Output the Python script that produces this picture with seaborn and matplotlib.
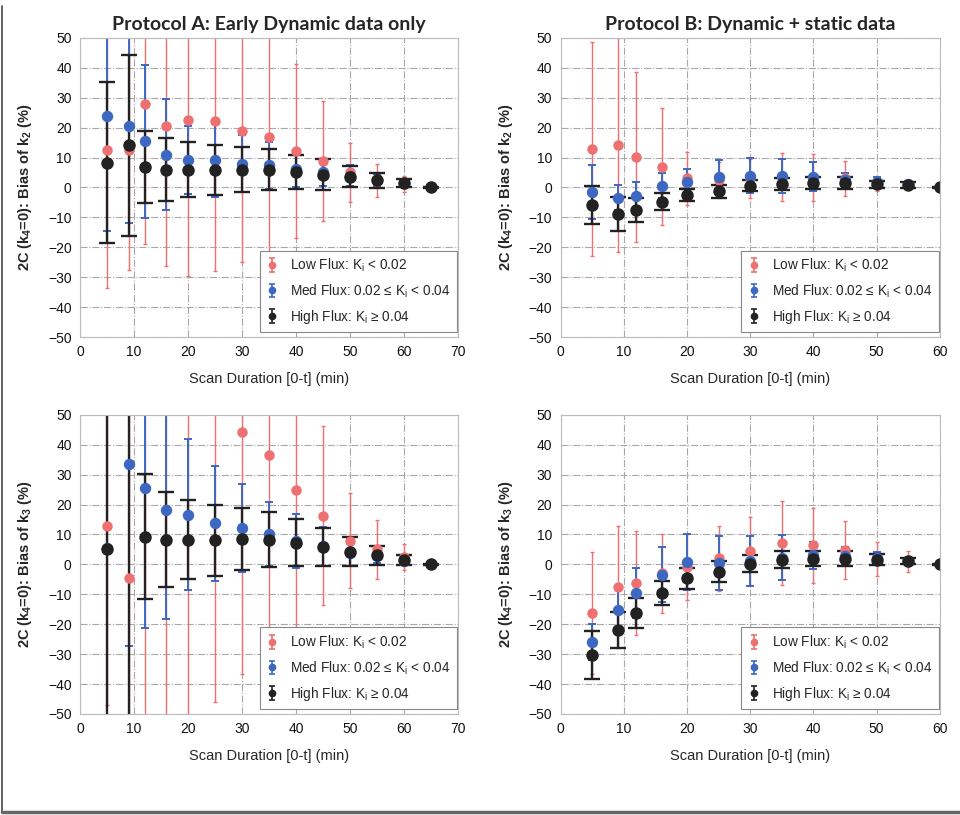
# 2C model (k4=0) bias of k2 / k3 vs scan duration
# Protocol A (early dynamic only) vs Protocol B (dynamic + static)

import matplotlib
matplotlib.use("Agg")
import matplotlib.pyplot as plt
import seaborn as sns

# Scan durations (min)
time_a = [5, 9, 12, 16, 20, 25, 30, 35, 40, 45, 50, 55, 60, 65]
time_b = [5, 9, 12, 16, 20, 25, 30, 35, 40, 45, 50, 55, 60]

# Protocol A - bias of k2 (%), mean and error
a_k2_low = [12.4, 12.4, 28.0, 20.7, 22.4, 22.2, 19.0, 16.7, 12.2, 8.9, 5.0, 2.2, 1.1, 0.0]
a_k2_low_err = [46, 40, 47, 47, 52, 50, 44, 39, 29, 20, 9.8, 5.5, 2.6, 0.3]
a_k2_med = [23.9, 20.6, 15.4, 11.0, 9.1, 9.1, 8.0, 7.4, 6.3, 5.0, 3.9, 2.4, 1.4, 0.0]
a_k2_med_err = [38.3, 32.5, 25.7, 18.5, 11.3, 12.2, 9.5, 7.8, 6.0, 4.4, 3.5, 2.0, 1.2, 0.2]
a_k2_high = [8.3, 14.1, 6.9, 6.0, 6.0, 5.8, 6.0, 6.0, 5.2, 4.3, 3.6, 2.4, 1.4, 0.0]
a_k2_high_err = [26.8, 30.2, 12.1, 10.5, 9.1, 8.3, 7.5, 6.8, 5.6, 5.1, 3.6, 2.5, 1.3, 0.1]

# Protocol B - bias of k2 (%)
b_k2_low = [12.9, 14.2, 10.1, 6.9, 3.0, 2.5, 3.0, 3.5, 3.3, 3.0, 1.3, 0.8, 0.0]
b_k2_low_err = [35.8, 35.8, 28.4, 19.5, 8.8, 6.0, 6.5, 8.0, 7.8, 6.0, 2.6, 1.2, 0.1]
b_k2_med = [-1.5, -3.4, -2.8, 0.6, 1.7, 3.4, 3.9, 3.9, 3.6, 2.6, 1.9, 1.1, 0.0]
b_k2_med_err = [9.0, 4.3, 4.5, 4.2, 4.5, 5.9, 5.8, 5.7, 4.8, 2.1, 1.6, 1.0, 0.1]
b_k2_high = [-5.8, -8.9, -7.6, -4.7, -2.5, -1.3, 0.6, 1.1, 1.5, 1.5, 1.1, 0.8, 0.0]
b_k2_high_err = [6.3, 5.6, 4.1, 2.7, 2.1, 2.1, 1.9, 2.1, 1.9, 1.9, 1.2, 0.9, 0.1]

# Protocol A - bias of k3 (%)
a_k3_low = [13.0, -4.4, 60, 58, 55, 52, 44.3, 36.6, 24.8, 16.3, 7.9, 5.0, 2.4, 0.0]
a_k3_low_err = [60, 60, 120, 115, 110, 98, 81, 70, 46.6, 30, 15.8, 10, 4.3, 0.2]
a_k3_med = [5.5, 33.6, 25.6, 18.3, 16.6, 13.7, 12.2, 10.2, 7.8, 6.1, 3.9, 2.8, 1.1, 0.0]
a_k3_med_err = [70, 60.8, 47, 36.4, 25.2, 19.3, 14.8, 10.6, 9.0, 6.5, 4.5, 2.5, 1.2, 0.2]
a_k3_high = [5.2, -60, 9.3, 8.3, 8.3, 8.0, 8.6, 8.3, 7.2, 5.8, 4.3, 3.0, 1.4, 0.0]
a_k3_high_err = [80, 120, 20.8, 16.0, 13.3, 11.8, 10.4, 9.2, 7.9, 6.4, 4.8, 3.2, 1.6, 0.1]

# Protocol B - bias of k3 (%)
b_k3_low = [-16.4, -7.6, -6.2, -3.0, -1.0, 2.0, 4.5, 7.1, 6.4, 4.8, 1.9, 0.9, 0.0]
b_k3_low_err = [20.4, 20.5, 17.5, 13.3, 11.0, 10.9, 11.5, 14.0, 12.6, 9.8, 5.7, 3.6, 0.1]
b_k3_med = [-26.0, -15.1, -9.5, -3.4, 0.9, 0.5, 1.1, 2.2, 3.0, 2.8, 2.2, 1.1, 0.0]
b_k3_med_err = [6.0, 7.3, 8.4, 9.2, 9.3, 8.9, 8.3, 7.5, 4.5, 3.0, 2.0, 1.0, 0.1]
b_k3_high = [-30.2, -21.8, -16.4, -9.6, -4.7, -2.5, 0.2, 1.6, 1.9, 1.9, 1.6, 1.1, 0.0]
b_k3_high_err = [8.0, 6.0, 5.0, 4.0, 3.6, 3.5, 2.8, 2.8, 2.6, 2.5, 1.8, 1.1, 0.1]

labels = ["Low Flux: K$_\\mathregular{i}$ < 0.02",
          "Med Flux: 0.02 \u2264 K$_\\mathregular{i}$ < 0.04",
          "High Flux: K$_\\mathregular{i}$ \u2265 0.04"]
colors = ["#EE7070", "#3D68C2", "#222222"]

sns.set_theme(style="whitegrid")
plt.rcParams["font.family"] = ["Liberation Sans", "DejaVu Sans"]
plt.rcParams["mathtext.fontset"] = "custom"
plt.rcParams["mathtext.rm"] = "Liberation Sans"
plt.rcParams["mathtext.it"] = "Liberation Sans:italic"
plt.rcParams["mathtext.bf"] = "Liberation Sans:bold"

fig = plt.figure(figsize=(9.6, 8.15), dpi=100)
ax_a2 = fig.add_axes([0.0833, 0.5865, 0.394, 0.367])
ax_b2 = fig.add_axes([0.584, 0.5865, 0.395, 0.367])
ax_a3 = fig.add_axes([0.0833, 0.124, 0.394, 0.367])
ax_b3 = fig.add_axes([0.584, 0.124, 0.395, 0.367])


def draw_panel(ax, t, series, xmax, ylabel, title=None):
    styles = [dict(ms=6.5, elinewidth=1.0, capsize=1.6, capthick=1.0),
              dict(ms=7.2, elinewidth=1.4, capsize=3.2, capthick=1.4),
              dict(ms=8.0, elinewidth=1.7, capsize=5.5, capthick=1.7)]
    for (mean, err), c, st in zip(series, colors, styles):
        ax.errorbar(t, mean, yerr=err, fmt="o", color=c, ecolor=c,
                    markeredgecolor=c, **st)
    # small proxy handles for the legend
    handles = []
    for c, lab in zip(colors, labels):
        h = ax.errorbar([float("nan")], [float("nan")], yerr=[1.0], fmt="o",
                        color=c, ms=4.5, elinewidth=1.2, capsize=2.0,
                        capthick=1.2, label=lab)
        handles.append(h)
    ax.set_xlim(0, xmax)
    ax.set_ylim(-50, 50)
    ax.set_xticks(range(0, xmax + 1, 10))
    ax.set_yticks(range(-50, 51, 10))
    ax.grid(True, linestyle="-.", color="#A8A8A8", linewidth=0.8)
    for sp in ax.spines.values():
        sp.set_color("#BBBBBB")
        sp.set_linewidth(0.8)
    ax.tick_params(length=0, labelsize=10, colors="#111111", pad=6)
    ax.set_xlabel("Scan Duration [0-t] (min)", fontsize=10.5, labelpad=9)
    ax.set_ylabel(ylabel, fontsize=10.5, fontweight="bold", labelpad=10)
    if title:
        ax.set_title(title, fontsize=14, fontweight="bold",
                     family=["Lato", "DejaVu Sans"], pad=6)
    leg = ax.legend(handles=handles, loc="lower right",
                    bbox_to_anchor=(0.997, 0.017), borderaxespad=0,
                    fontsize=9.8, fancybox=False, framealpha=1,
                    edgecolor="#888888", handlelength=0.9,
                    labelspacing=0.6, handletextpad=0.9, borderpad=0.45)
    leg.get_frame().set_linewidth(0.8)


ylab_k2 = "2C (k$_{\\mathbf{4}}$=0): Bias of k$_{\\mathbf{2}}$ (%)"
ylab_k3 = "2C (k$_{\\mathbf{4}}$=0): Bias of k$_{\\mathbf{3}}$ (%)"

draw_panel(ax_a2, time_a,
           [(a_k2_low, a_k2_low_err), (a_k2_med, a_k2_med_err), (a_k2_high, a_k2_high_err)],
           70, ylab_k2, "Protocol A: Early Dynamic data only")
draw_panel(ax_b2, time_b,
           [(b_k2_low, b_k2_low_err), (b_k2_med, b_k2_med_err), (b_k2_high, b_k2_high_err)],
           60, ylab_k2, "Protocol B: Dynamic + static data")
draw_panel(ax_a3, time_a,
           [(a_k3_low, a_k3_low_err), (a_k3_med, a_k3_med_err), (a_k3_high, a_k3_high_err)],
           70, ylab_k3)
draw_panel(ax_b3, time_b,
           [(b_k3_low, b_k3_low_err), (b_k3_med, b_k3_med_err), (b_k3_high, b_k3_high_err)],
           60, ylab_k3)

# thin frame on the left and bottom of the figure
fig.add_artist(plt.Line2D([0.002, 0.002], [0.004, 0.993], color="#444444", lw=1.2))
fig.add_artist(plt.Line2D([0.002, 1.0], [0.004, 0.004], color="#666666", lw=2.5))

fig.savefig("out.png", dpi=100, facecolor="white")
